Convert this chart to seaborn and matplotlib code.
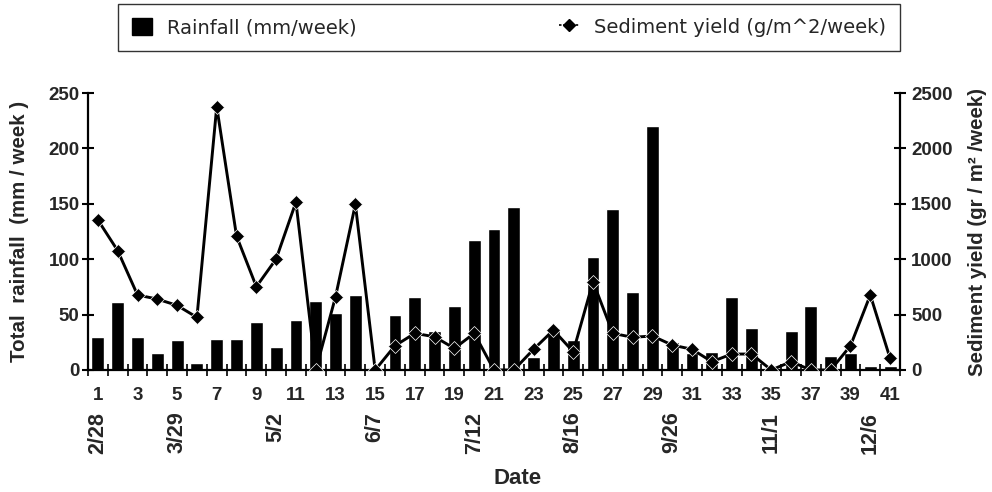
import matplotlib
matplotlib.use("Agg")
import matplotlib.pyplot as plt
import seaborn as sns
from matplotlib.lines import Line2D
from matplotlib.patches import Patch
from matplotlib.ticker import FixedLocator

# ---------------- data ----------------
weeks = list(range(1, 42))
rainfall = [30, 61, 30, 15, 27, 6, 28, 28, 43, 21, 45, 62, 51, 68,
            0, 50, 66, 35, 58, 117, 127, 147, 12, 38, 27, 102, 145, 70, 220,
            25, 15, 16, 66, 38, 0, 35, 58, 13, 15, 4, 4]
sediment = [1354, 1077, 677, 640, 583, 475, 2377, 1209, 752, 1002, 1516, 0, 662, 1495,
            0, 219, 331, 300, 195, 331, 0, 0, 187, 360, 165, 797, 331, 295, 307,
            225, 187, 75, 144, 144, 0, 75, 0, 0, 219, 677, 105]
week_labels = [str(w) for w in range(1, 42, 2)]
week_label_pos = list(range(1, 42, 2))
date_pos = [1, 5, 10, 15, 20, 25, 30, 35, 40]
date_labels = ["2/28", "3/29", "5/2", "6/7", "7/12", "8/16", "9/26", "11/1", "12/6"]
left_ticks = [0, 50, 100, 150, 200, 250]
right_ticks = [0, 500, 1000, 1500, 2000, 2500]

# ---------------- style ----------------
sns.set_style("white")
plt.rcParams['font.family'] = ['Liberation Sans', 'DejaVu Sans']

fig = plt.figure(figsize=(9.92, 4.92), dpi=100)
ax = fig.add_axes([88 / 992, 1 - 370 / 492, 812 / 992, 277 / 492])

sns.barplot(x=weeks, y=rainfall, native_scale=True, color='black', saturation=1,
            width=0.65, errorbar=None, ax=ax, zorder=2)

ax2 = ax.twinx()
sns.lineplot(x=weeks, y=sediment, ax=ax2, color='black', linewidth=2.1,
             marker='D', markersize=7.6, markeredgecolor='white', markeredgewidth=0.5)

ax.set_xlim(0.5, 41.5)
ax.set_ylim(0, 250)
ax2.set_ylim(0, 2500)

tick_font = dict(fontsize=13.5, fontweight='bold')

# x ticks
ax.set_xticks(week_label_pos, labels=week_labels)
ax.xaxis.set_minor_locator(FixedLocator([w + 0.5 for w in range(0, 42)]))
ax.tick_params(axis='x', which='major', length=0, pad=12)
ax.tick_params(axis='x', which='minor', direction='inout', length=8, width=1.2, color='black', bottom=True)
for lab in ax.get_xticklabels():
    lab.set(**tick_font)

# y ticks
ax.set_yticks(left_ticks, labels=[str(t) for t in left_ticks])
ax.tick_params(axis='y', direction='inout', length=8, width=1.5, color='black', pad=2, left=True)
for lab in ax.get_yticklabels():
    lab.set(**tick_font)
ax2.set_yticks(right_ticks, labels=[str(t) for t in right_ticks])
ax2.tick_params(axis='y', direction='inout', length=8, width=1.5, color='black', pad=4, right=True)
for lab in ax2.get_yticklabels():
    lab.set(**tick_font)

# date labels on secondary axis
sec = ax.secondary_xaxis('bottom')
sec.set_xticks(date_pos, labels=date_labels)
sec.tick_params(length=0, pad=30)
for lab in sec.get_xticklabels():
    lab.set_rotation(90)
    lab.set_fontsize(15.5)
    lab.set_fontweight('bold')
sec.spines['bottom'].set_visible(False)

fig.text(518 / 992, 1 - 478 / 492, 'Date', fontsize=16, fontweight='bold',
         ha='center', va='center')

# spines
for s in ['top', 'right']:
    ax.spines[s].set_visible(False)
for s in ['top', 'left', 'bottom']:
    ax2.spines[s].set_visible(False)
for a, s in [(ax, 'left'), (ax, 'bottom'), (ax2, 'right')]:
    a.spines[s].set_linewidth(1.6)
    a.spines[s].set_color('black')

# labels
ax.set_ylabel('Total  rainfall  (mm / week )', fontsize=14.8, fontweight='bold')
ax.yaxis.set_label_coords(-0.073, 0.5)
ax2.set_ylabel('Sediment yield (gr / m² /week)', fontsize=14.8, fontweight='bold')
ax2.yaxis.set_label_coords(1.084, 0.5)
ax.set_xlabel('')
ax2.set_xlabel('')

# legend
handles = [Patch(facecolor='black', edgecolor='black'),
           Line2D([], [], color='black', linestyle=(0, (1.5, 1)), linewidth=1.2,
                  marker='D', markersize=6.5)]
labels = ['Rainfall (mm/week)', 'Sediment yield (g/m^2/week)']
leg = fig.legend(handles, labels, loc='center', ncol=2, mode='expand',
                 bbox_to_anchor=(118 / 992, 1 - 50 / 492, (900 - 118) / 992, 45 / 492),
                 frameon=True, fancybox=False, shadow=False, borderaxespad=0,
                 prop={'family': 'DejaVu Sans', 'size': 14},
                 handlelength=1.05, handleheight=1.0, handletextpad=0.75,
                 borderpad=0.72)
leg.get_frame().set_edgecolor('black')
leg.get_frame().set_linewidth(1.0)

fig.savefig('out.png', dpi=100)
